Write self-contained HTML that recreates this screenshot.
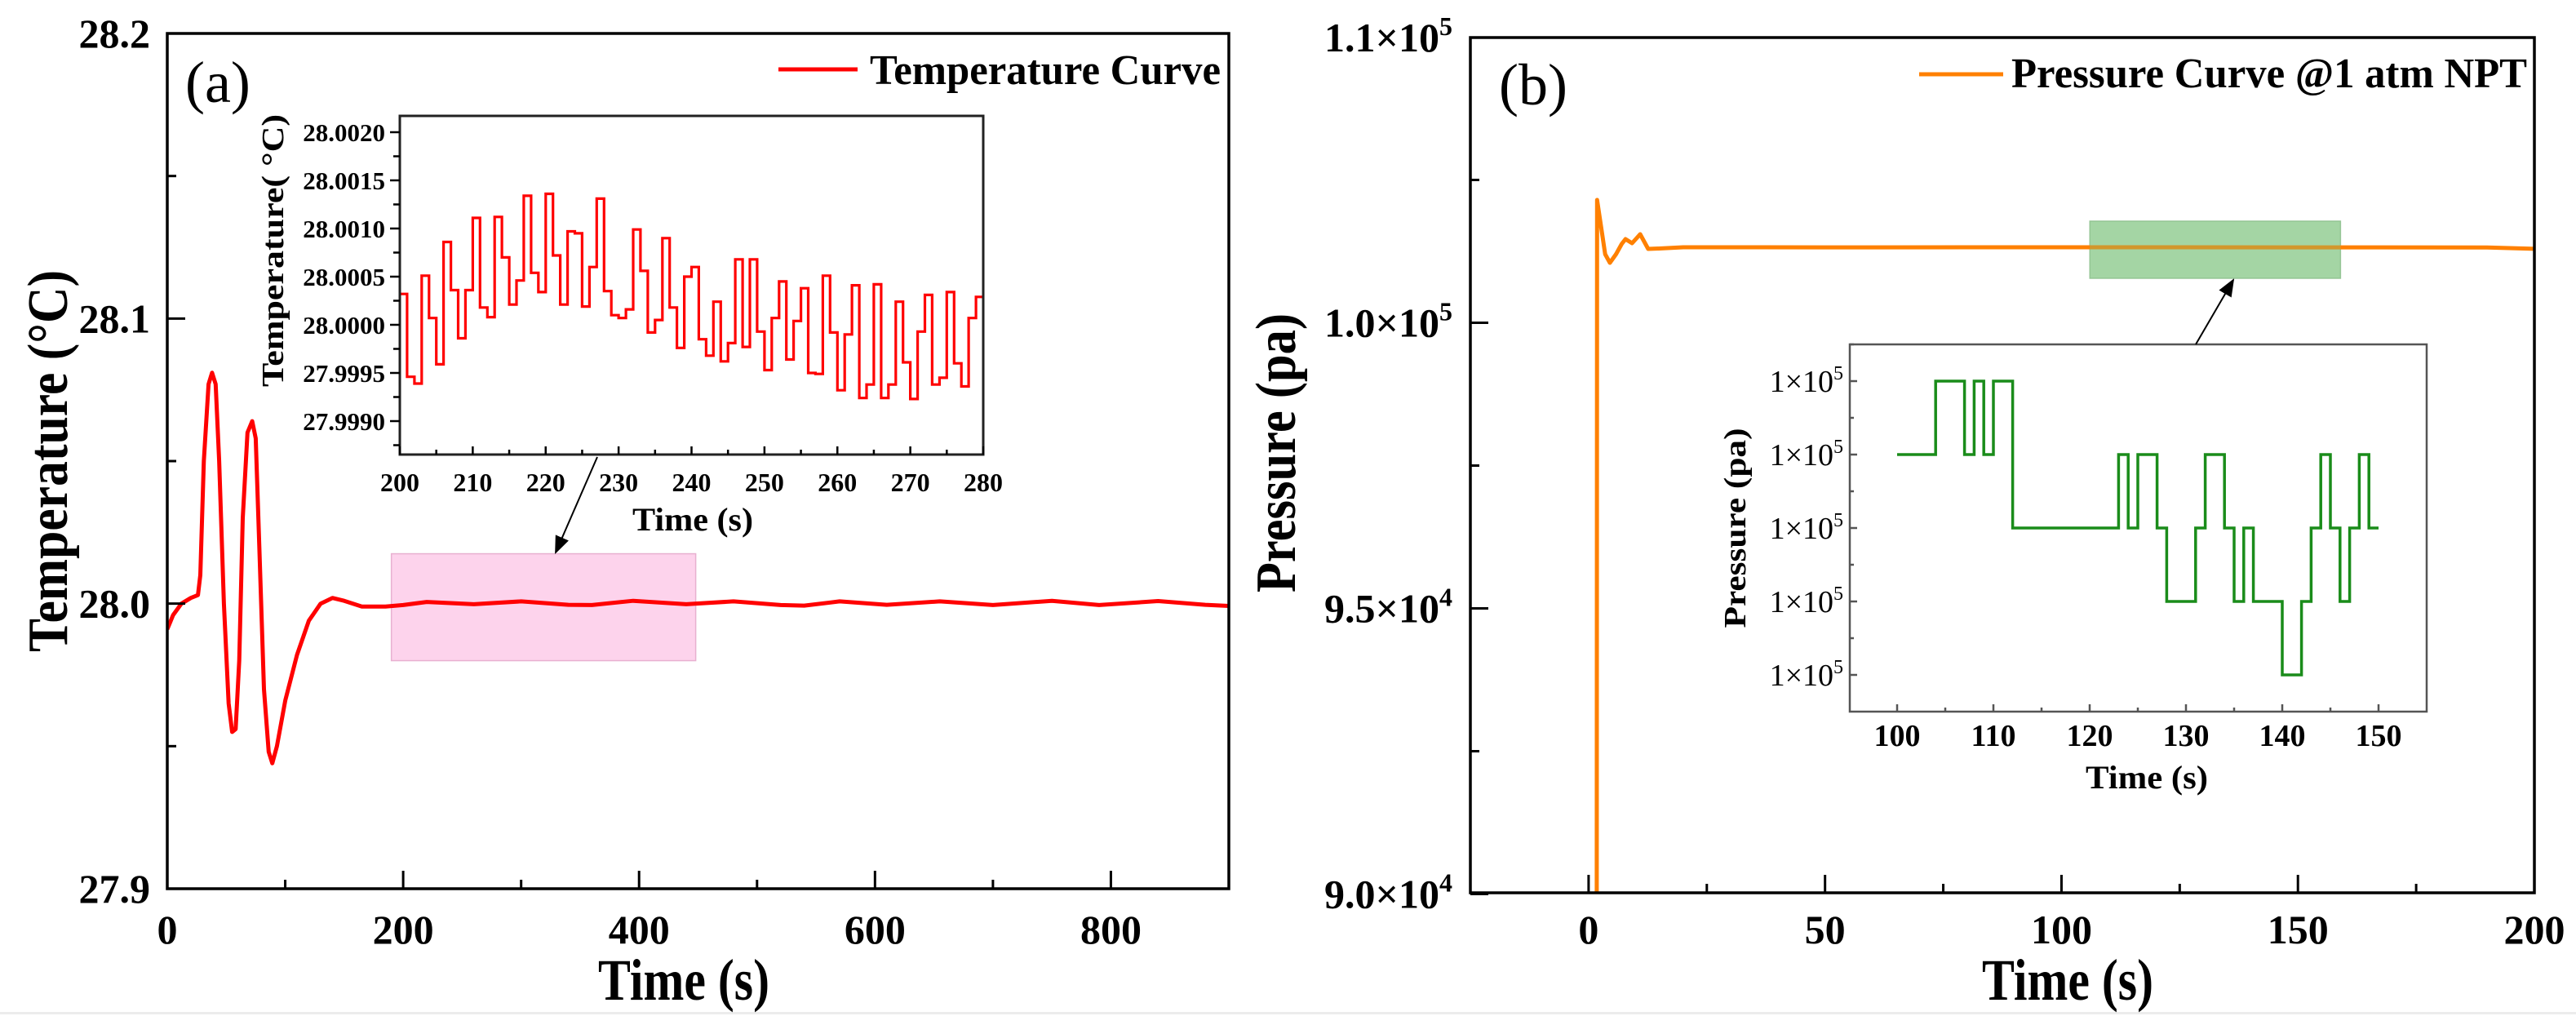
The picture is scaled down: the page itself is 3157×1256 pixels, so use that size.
<!DOCTYPE html>
<html><head><meta charset="utf-8"><style>
html,body{margin:0;padding:0;background:#fff;width:3157px;height:1256px;overflow:hidden;}
svg{display:block;font-family:"Liberation Serif","Times New Roman",serif;font-weight:bold;}
svg text, svg tspan{font-family:"Liberation Serif","Times New Roman",serif !important;}
</style></head><body>
<svg id="fig" width="3157" height="1256" viewBox="0 0 3157 1256" xmlns="http://www.w3.org/2000/svg">
<defs>
<clipPath id="clipA"><rect x="205" y="41" width="1302" height="1048"/></clipPath>
<clipPath id="clipB"><rect x="1802" y="46" width="1305" height="1048"/></clipPath>
<marker id="arr2" viewBox="0 0 10 10" markerWidth="22" markerHeight="22" refX="9" refY="5" orient="auto" markerUnits="userSpaceOnUse"><path d="M0,1 L10,5 L0,9 z" fill="#000"/></marker>
</defs>
<rect x="0" y="1240" width="3157" height="3" fill="#ececec"/>
<g id="gA"></g>
<g id="gB"></g>
</svg>
<script>
// ---------- Panel (a) data ----------
const tempTime = [0,5,12,20,26,28,31,35,38,41,44,48,52,55,58,61,64,68,72,75,78,82,86,89,93,100,110,120,130,140,150,165,185,200,220,240,260,300,340,360,395,440,480,520,540,570,610,655,700,750,790,840,880,900];
const tempValue = [27.991,27.996,28.000,28.002,28.003,28.010,28.050,28.077,28.081,28.077,28.050,28.000,27.965,27.955,27.956,27.980,28.030,28.060,28.064,28.058,28.020,27.970,27.948,27.944,27.950,27.966,27.982,27.994,28.000,28.002,28.001,27.999,27.999,27.9995,28.0006,28.0002,27.9998,28.0008,27.9996,27.9995,28.0010,27.9998,28.0008,27.9995,27.9993,28.0008,27.9996,28.0008,27.9995,28.0010,27.9995,28.0009,27.9996,27.9992];
const tempXTicks = [0,200,400,600,800];
const tempXMinor = [100,300,500,700];
const tempYTicks = [27.9,28.0,28.1,28.2];
const tempYMinor = [27.95,28.05,28.15];
const insetTempStart = 200;
const insetTempOffset = [3.2,-5.4,-6.1,5.1,0.7,-4.1,8.6,3.6,-1.4,3.6,11.1,1.8,0.8,11.2,7.0,2.1,4.6,13.4,5.4,3.4,13.6,7.2,2.1,9.7,9.5,1.9,6.0,13.1,3.5,1.0,0.7,1.6,9.9,5.6,-0.8,0.5,9.0,1.8,-2.4,5.0,6.0,-1.5,-3.2,2.4,-3.8,-1.9,6.8,-2.3,6.8,-0.7,-4.7,0.7,4.5,-3.6,0.4,3.8,-5.0,-5.1,5.1,-0.8,-6.8,-1.0,4.1,-7.6,-6.2,4.2,-7.6,-6.2,2.4,-3.9,-7.7,-0.7,3.1,-6.2,-5.5,3.4,-4.0,-6.4,0.7,2.9];
const insetTempXTicks = [200,210,220,230,240,250,260,270,280];
const insetTempYTicks = [27.9990,27.9995,28.0000,28.0005,28.0010,28.0015,28.0020];
const insetTempYLabels = ["27.9990","27.9995","28.0000","28.0005","28.0010","28.0015","28.0020"];

// ---------- Panel (b) data ----------
const presTime = [1.7,1.8,2.6,3.5,4.5,5.8,7.0,7.8,9.2,10.9,12.6,15,20,50,100,150,190,200];
const presValue = [85000,102150,101700,101200,101050,101200,101380,101464,101393,101550,101293,101300,101321,101320,101322,101320,101318,101295];
const presXTicks = [0,50,100,150,200];
const presXMinor = [-25,25,75,125,175];
const presYTicks = [90000,95000,100000];
const presYLabels = ["9.0","9.5","1.0"];
const presYExp = ["4","4","5"];
const presYMinor = [92500,97500,102500];
const insetStepTime = [100,104,107,108,109,110,112,123,124,125,127,128,131,132,134,135,136,137,140,142,143,144,145,146,147,148,149];
const insetStepLevel = [3,4,3,4,3,4,2,3,2,3,2,1,2,3,2,1,2,1,0,1,2,3,2,1,2,3,2];
const insetStepEnd = 150;
const insetPresXTicks = [100,110,120,130,140,150];
const insetPresYTicks = [0,1,2,3,4];

const NS = "http://www.w3.org/2000/svg";
const FF = '"Liberation Serif","Times New Roman",serif';
function mk(tag, attrs, parent){ const e=document.createElementNS(NS,tag); for(const k in attrs) e.setAttribute(k,attrs[k]); if(tag==='text') e.setAttribute('font-family',FF); parent.appendChild(e); return e; }
function lin(d0,d1,r0,r1){ return v => r0 + (v-d0)*(r1-r0)/(d1-d0); }

const gA = document.getElementById('gA');
const gB = document.getElementById('gB');

// ======== Panel A ========
const ax = lin(0,900,205,1506);
const ay = lin(27.9,28.2,1089,41);

let r = mk('rect',{x:ax(190),y:ay(28.0175),width:ax(448)-ax(190),height:ay(27.98)-ay(28.0175),fill:'#fbb6e0','fill-opacity':'0.6',stroke:'#e8b0d0','stroke-width':1.5},gA);



let dA = tempTime.map((t,i)=>(i?'L':'M')+ax(t).toFixed(1)+','+ay(tempValue[i]).toFixed(1)).join(' ');
let pA = mk('path',{d:dA,fill:'none',stroke:'#ff0000','stroke-width':5,'stroke-linejoin':'round','clip-path':'url(#clipA)'},gA);



let fA = mk('rect',{x:205,y:41,width:1301,height:1048,fill:'none',stroke:'#000','stroke-width':3.5},gA);



tempXTicks.forEach(v=>{
  let t=mk('line',{x1:ax(v),x2:ax(v),y1:1089,y2:1067,stroke:'#000','stroke-width':3},gA);
  
  
  let l=mk('text',{x:ax(v),y:1156,'font-size':50,'text-anchor':'middle'},gA);
  l.textContent=v;
  
  
});
tempXMinor.forEach(v=>{
  let t=mk('line',{x1:ax(v),x2:ax(v),y1:1089,y2:1078,stroke:'#000','stroke-width':3},gA);
  
  
});
tempYTicks.forEach(v=>{
  let t=mk('line',{x1:205,x2:227,y1:ay(v),y2:ay(v),stroke:'#000','stroke-width':3},gA);
  
  
  let l=mk('text',{x:184,y:ay(v)+17,'font-size':50,'text-anchor':'end'},gA);
  l.textContent=v.toFixed(1);
  
  
});
tempYMinor.forEach(v=>{
  let t=mk('line',{x1:205,x2:216,y1:ay(v),y2:ay(v),stroke:'#000','stroke-width':3},gA);
  
  
});

let xtA=mk('text',{x:838,y:1225,'font-size':72,'text-anchor':'middle',textLength:210,lengthAdjust:'spacingAndGlyphs'},gA);
xtA.textContent='Time (s)';


let ytA=mk('text',{x:0,y:0,'font-size':70,'text-anchor':'middle',transform:'translate(82,565) rotate(-90)',textLength:468,lengthAdjust:'spacingAndGlyphs'},gA);
ytA.textContent='Temperature (°C)';


let labA=mk('text',{x:227,y:125,'font-size':72,'font-weight':'normal'},gA);
labA.textContent='(a)';



let lgA=mk('line',{x1:954,x2:1051,y1:85,y2:85,stroke:'#ff0000','stroke-width':5},gA);


let ltA=mk('text',{x:1066,y:103,'font-size':52,textLength:430,lengthAdjust:'spacingAndGlyphs'},gA);
ltA.textContent='Temperature Curve';



// ---- inset A ----
const ix = lin(200,280,490,1205);
const iy = lin(28.0020,27.9990,162,516);
let ibg=mk('rect',{x:490,y:142,width:715,height:415,fill:'#fff',stroke:'none'},gA);


let dI='';
insetTempOffset.forEach((o,i)=>{
  const t=insetTempStart+i, v=28+o*1e-4;
  dI += (i?'L':'M')+ix(t).toFixed(1)+','+iy(v).toFixed(1)+' L'+ix(t+1).toFixed(1)+','+iy(v).toFixed(1)+' ';
});
let pI=mk('path',{d:dI,fill:'none',stroke:'#ff0000','stroke-width':3.2},gA);


let ifr=mk('rect',{x:490,y:142,width:715,height:415,fill:'none',stroke:'#222','stroke-width':3},gA);


insetTempXTicks.forEach((v,i)=>{
  let t=mk('line',{x1:ix(v),x2:ix(v),y1:557,y2:547,stroke:'#000','stroke-width':2.5},gA);
  
  
  if(i<insetTempXTicks.length-1){
    let m=mk('line',{x1:ix(v+5),x2:ix(v+5),y1:557,y2:551,stroke:'#000','stroke-width':2.5},gA);
    
    
  }
  let l=mk('text',{x:ix(v),y:602,'font-size':32,'text-anchor':'middle'},gA);
  l.textContent=v;
  
  
});
insetTempYTicks.forEach((v,i)=>{
  let t=mk('line',{x1:490,x2:478,y1:iy(v),y2:iy(v),stroke:'#000','stroke-width':2.5},gA);
  
  
  let m=mk('line',{x1:490,x2:482,y1:iy(v-0.00025),y2:iy(v-0.00025),stroke:'#000','stroke-width':2.5},gA);
  
  
  let l=mk('text',{x:472,y:iy(v)+11,'font-size':31,'text-anchor':'end'},gA);
  l.textContent=insetTempYLabels[i];
  
  
});
let ixt=mk('text',{x:849,y:650,'font-size':40,'text-anchor':'middle',textLength:148,lengthAdjust:'spacingAndGlyphs'},gA);
ixt.textContent='Time (s)';


let iyt=mk('text',{x:0,y:0,'font-size':38,'text-anchor':'middle',transform:'translate(347,307) rotate(-90)',textLength:334,lengthAdjust:'spacingAndGlyphs'},gA);
iyt.textContent='Temperature( °C)';


let arA=mk('line',{x1:732,y1:560,x2:681,y2:677,stroke:'#000','stroke-width':2,'marker-end':'url(#arr2)'},gA);



// ======== Panel B ========
const bx = lin(-25,200,1802,3106);
const by = lin(100000,90000,395.5,1095.5);

let gr=mk('rect',{x:bx(106),y:271,width:bx(159)-bx(106),height:70,fill:'#7fc47f','fill-opacity':'0.55',stroke:'#9cc79c','stroke-width':1.5},gB);



let dB = presTime.map((t,i)=>(i?'L':'M')+bx(t).toFixed(1)+','+by(presValue[i]).toFixed(1)).join(' ');
let pB=mk('path',{d:dB,fill:'none',stroke:'#ff8000','stroke-width':5,'stroke-linejoin':'round','clip-path':'url(#clipB)'},gB);


let gr2=mk('rect',{x:bx(106),y:271,width:bx(159)-bx(106),height:70,fill:'#7fc47f','fill-opacity':'0.35',stroke:'none'},gB);



let fB=mk('rect',{x:1802,y:46,width:1304,height:1048,fill:'none',stroke:'#000','stroke-width':3.5},gB);



presXTicks.forEach(v=>{
  let t=mk('line',{x1:bx(v),x2:bx(v),y1:1094,y2:1072,stroke:'#000','stroke-width':3},gB);
  
  
  let l=mk('text',{x:bx(v),y:1156,'font-size':50,'text-anchor':'middle'},gB);
  l.textContent=v;
  
  
});
presXMinor.forEach(v=>{
  let t=mk('line',{x1:bx(v),x2:bx(v),y1:1094,y2:1083,stroke:'#000','stroke-width':3},gB);
  
  
});
presYTicks.forEach((v,i)=>{
  let t=mk('line',{x1:1802,x2:1824,y1:by(v),y2:by(v),stroke:'#000','stroke-width':3},gB);
  
  
  let l=mk('text',{x:1780,y:by(v)+17,'font-size':50,'text-anchor':'end'},gB);
  
  
  l.textContent=presYLabels[i]+'×10';
  let s=mk('tspan',{dy:-20,'font-size':32},l); s.textContent=presYExp[i];
});
presYMinor.forEach(v=>{
  let t=mk('line',{x1:1802,x2:1813,y1:by(v),y2:by(v),stroke:'#000','stroke-width':3},gB);
  
  
});
let topL=mk('text',{x:1780,y:63,'font-size':50,'text-anchor':'end'},gB);
topL.textContent='1.1×10';
let ts=mk('tspan',{dy:-20,'font-size':32},topL); ts.textContent='5';



let xtB=mk('text',{x:2534,y:1225,'font-size':72,'text-anchor':'middle',textLength:210,lengthAdjust:'spacingAndGlyphs'},gB);
xtB.textContent='Time (s)';


let ytB=mk('text',{x:0,y:0,'font-size':70,'text-anchor':'middle',transform:'translate(1587,555) rotate(-90)',textLength:342,lengthAdjust:'spacingAndGlyphs'},gB);
ytB.textContent='Pressure (pa)';


let labB=mk('text',{x:1837,y:128,'font-size':72,'font-weight':'normal'},gB);
labB.textContent='(b)';



let lgB=mk('line',{x1:2352,x2:2455,y1:91,y2:91,stroke:'#ff8000','stroke-width':5},gB);


let ltB=mk('text',{x:2465,y:107,'font-size':52,textLength:632,lengthAdjust:'spacingAndGlyphs'},gB);
ltB.textContent='Pressure Curve @1 atm NPT';



// ---- inset B ----
const jx = lin(100,150,2325,2915);
const jy = lin(0,4,827,467);
let jbg=mk('rect',{x:2267,y:422,width:707,height:450,fill:'#fff',stroke:'none'},gB);


let dJ='';
insetStepTime.forEach((t,i)=>{
  const tn = i<insetStepTime.length-1 ? insetStepTime[i+1] : insetStepEnd;
  dJ += (i?'L':'M')+jx(t).toFixed(1)+','+jy(insetStepLevel[i]).toFixed(1)+' L'+jx(tn).toFixed(1)+','+jy(insetStepLevel[i]).toFixed(1)+' ';
});
let pJ=mk('path',{d:dJ,fill:'none',stroke:'#1a8c1a','stroke-width':3.5},gB);


let jfr=mk('rect',{x:2267,y:422,width:707,height:450,fill:'none',stroke:'#555','stroke-width':2.5},gB);


insetPresXTicks.forEach((v,i)=>{
  let t=mk('line',{x1:jx(v),x2:jx(v),y1:872,y2:863,stroke:'#555','stroke-width':2.5},gB);
  
  
  if(i<insetPresXTicks.length-1){
    let m=mk('line',{x1:jx(v+5),x2:jx(v+5),y1:872,y2:867,stroke:'#555','stroke-width':2.5},gB);
    
    
  }
  let l=mk('text',{x:jx(v),y:914,'font-size':38,'text-anchor':'middle'},gB);
  l.textContent=v;
  
  
});
insetPresYTicks.forEach(v=>{
  let t=mk('line',{x1:2267,x2:2276,y1:jy(v),y2:jy(v),stroke:'#555','stroke-width':2.5},gB);
  
  
  let m=mk('line',{x1:2267,x2:2272,y1:jy(v+0.5),y2:jy(v+0.5),stroke:'#555','stroke-width':2.5},gB);
  
  
  let l=mk('text',{x:2259,y:jy(v)+13,'font-size':38,'font-weight':'normal','text-anchor':'end'},gB);
  l.textContent='1×10';
  let s=mk('tspan',{dy:-15,'font-size':24},l); s.textContent='5';
  
  
});
let jxt=mk('text',{x:2631,y:966,'font-size':40,'text-anchor':'middle',textLength:150,lengthAdjust:'spacingAndGlyphs'},gB);
jxt.textContent='Time (s)';


let jyt=mk('text',{x:0,y:0,'font-size':38,'text-anchor':'middle',transform:'translate(2139,647) rotate(-90)',textLength:245,lengthAdjust:'spacingAndGlyphs'},gB);
jyt.textContent='Pressure (pa)';


let arB=mk('line',{x1:2691,y1:422,x2:2737,y2:343,stroke:'#000','stroke-width':2,'marker-end':'url(#arr2)'},gB);


</script>
</body></html>
